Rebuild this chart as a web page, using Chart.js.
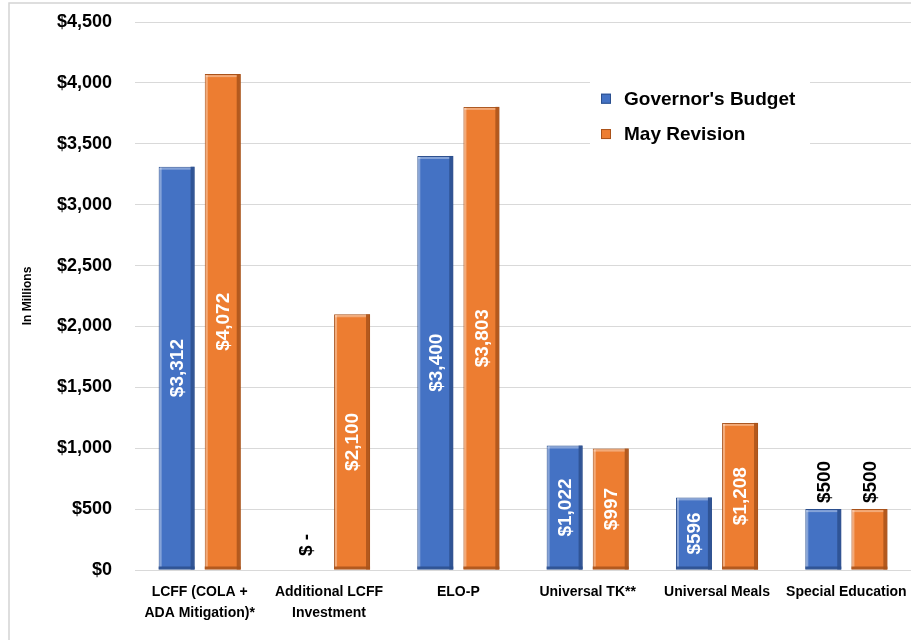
<!DOCTYPE html>
<html>
<head>
<meta charset="utf-8">
<script src="https://cdn.jsdelivr.net/npm/chart.js@4/dist/chart.umd.min.js"></script>
<style>
    html, body { margin: 0; padding: 0; background: #fff; overflow: hidden; }
    #wrap { position: relative; width: 911px; height: 640px; }
</style>
</head>
<body>
<div id="wrap"><canvas id="budget-chart" width="911" height="640"></canvas></div>
<script>
"use strict";

const categories = [
    ['LCFF (COLA +', 'ADA Mitigation)*'],
    ['Additional LCFF', 'Investment'],
    'ELO-P',
    'Universal TK**',
    'Universal Meals',
    'Special Education'
];
const governorsBudget = [3312, 0, 3400, 1022, 596, 500];
const mayRevision = [4072, 2100, 3803, 997, 1208, 500];
const seriesNames = ["Governor's Budget", 'May Revision'];
const yTicks = [0, 500, 1000, 1500, 2000, 2500, 3000, 3500, 4000, 4500];

const BLUE = '#4472C4';
const BLUE_DARK = '#2B4F8E';
const ORANGE = '#ED7D31';
const ORANGE_DARK = '#A9521A';
const FONT = '"Liberation Sans", Arial, sans-serif';

function money(v) {
    if (v === 0) return '$ -';
    return '$' + v.toLocaleString('en-US');
}

// thin frame on the left and top, like the exported slide
const framePlugin = {
    id: 'frame',
    beforeDraw(chart) {
        const ctx = chart.ctx;
        ctx.save();
        ctx.strokeStyle = '#d4d4d4';
        ctx.lineWidth = 1.5;
        ctx.beginPath();
        ctx.moveTo(9, 640);
        ctx.lineTo(9, 3);
        ctx.lineTo(911, 3);
        ctx.stroke();
        ctx.restore();
    }
};

// bevel shading on each bar plus the rotated value labels
const barDecorPlugin = {
    id: 'barDecor',
    afterDatasetsDraw(chart) {
        const ctx = chart.ctx;
        chart.data.datasets.forEach((ds, di) => {
            const meta = chart.getDatasetMeta(di);
            meta.data.forEach((bar, i) => {
                const { x, y, base, width } = bar.getProps(['x', 'y', 'base', 'width'], true);
                const left = x - width / 2;
                const h = base - y;
                if (h > 2) {
                    ctx.save();
                    ctx.fillStyle = ds.edgeColor;
                    ctx.globalAlpha = 0.85;
                    ctx.fillRect(left + width - 4, y, 4, h);
                    ctx.fillRect(left, base - 3, width, 3);
                    ctx.globalAlpha = 0.35;
                    ctx.fillStyle = '#ffffff';
                    ctx.fillRect(left + 1, y + 1, 2, h - 4);
                    ctx.fillRect(left + 1, y + 1, width - 5, 2);
                    ctx.restore();
                }

                const value = ds.data[i];
                const text = money(value);
                ctx.save();
                ctx.font = 'bold 19px ' + FONT;
                ctx.textBaseline = 'middle';
                if (value > 500) {
                    ctx.translate(x, (y + base) / 2);
                    ctx.rotate(-Math.PI / 2);
                    ctx.textAlign = 'center';
                    ctx.fillStyle = '#ffffff';
                    ctx.fillText(text, 0, 1);
                } else {
                    ctx.translate(x, y - 6);
                    ctx.rotate(-Math.PI / 2);
                    ctx.textAlign = 'left';
                    ctx.fillStyle = '#000000';
                    ctx.fillText(text, value === 0 ? 8 : 0, 1);
                }
                ctx.restore();
            });
        });
    }
};

// legend box sitting inside the plot, covering the grid behind it
const insideLegendPlugin = {
    id: 'insideLegend',
    afterDraw(chart) {
        const ctx = chart.ctx;
        const yScale = chart.scales.y;
        const boxLeft = 590;
        const top = yScale.getPixelForValue(4060);
        ctx.save();
        ctx.fillStyle = '#ffffff';
        ctx.fillRect(boxLeft, top, 220, yScale.getPixelForValue(3450) - top);
        ctx.font = 'bold 19px ' + FONT;
        ctx.textBaseline = 'middle';
        ctx.textAlign = 'left';
        chart.data.datasets.forEach((ds, di) => {
            const cy = yScale.getPixelForValue(3870 - di * 290);
            ctx.fillStyle = ds.backgroundColor;
            ctx.fillRect(boxLeft + 11, cy - 5, 10, 10);
            ctx.strokeStyle = ds.edgeColor;
            ctx.lineWidth = 1;
            ctx.strokeRect(boxLeft + 11.5, cy - 4.5, 9, 9);
            ctx.fillStyle = '#000000';
            ctx.fillText(ds.label, boxLeft + 34, cy + 1);
        });
        ctx.restore();
    }
};

const ctx = document.querySelector('#budget-chart').getContext('2d');
new Chart(ctx, {
    type: 'bar',
    data: {
        labels: categories,
        datasets: [{
            label: seriesNames[0],
            data: governorsBudget,
            backgroundColor: BLUE,
            borderColor: BLUE_DARK,
            edgeColor: BLUE_DARK,
            borderWidth: 1,
            borderSkipped: false
        }, {
            label: seriesNames[1],
            data: mayRevision,
            backgroundColor: ORANGE,
            borderColor: ORANGE_DARK,
            edgeColor: ORANGE_DARK,
            borderWidth: 1,
            borderSkipped: false
        }]
    },
    options: {
        responsive: false,
        animation: false,
        layout: { padding: { left: 8, top: 22, right: 0, bottom: 0 } },
        categoryPercentage: 0.713,
        barPercentage: 0.78,
        plugins: {
            legend: { display: false },
            tooltip: { enabled: false }
        },
        scales: {
            x: {
                grid: { display: false },
                border: { display: false },
                ticks: {
                    color: '#000',
                    font: { family: FONT, size: 14, weight: 'bold', lineHeight: 1.55 },
                    padding: 3,
                    maxRotation: 0,
                    autoSkip: false
                },
                afterFit(scale) { scale.height = 70; }
            },
            y: {
                min: 0,
                max: 4500,
                afterBuildTicks(scale) {
                    scale.ticks = yTicks.map(v => ({ value: v }));
                },
                afterFit(scale) {
                    scale.width = 127;
                    scale.paddingTop = 0;
                    scale.paddingBottom = 0;
                },
                grid: { color: '#d9d9d9', lineWidth: 1, drawTicks: false },
                border: { display: false },
                ticks: {
                    color: '#000',
                    font: { family: FONT, size: 18, weight: 'bold' },
                    padding: 23,
                    callback: v => '$' + Number(v).toLocaleString('en-US')
                },
                title: {
                    display: true,
                    text: 'In Millions',
                    color: '#000',
                    font: { family: FONT, size: 12, weight: 'bold' },
                    padding: { top: 12, bottom: 0 }
                }
            }
        }
    },
    plugins: [framePlugin, barDecorPlugin, insideLegendPlugin]
});
</script>
</body>
</html>
